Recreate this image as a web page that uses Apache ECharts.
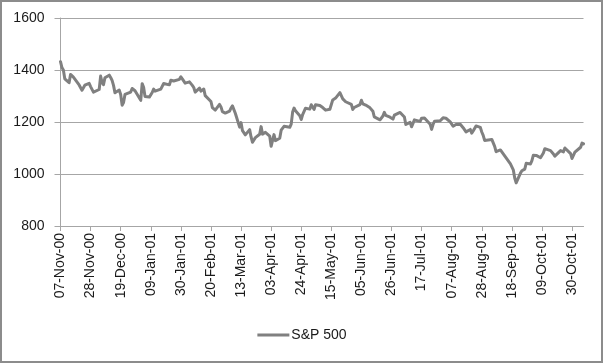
<!DOCTYPE html>
<html>
<head>
<meta charset="utf-8">
<script src="https://cdn.jsdelivr.net/npm/echarts@6/dist/echarts.min.js"></script>
<style>
html,body{margin:0;padding:0;background:#fff;}
#chart{width:604px;height:364px;}
</style>
</head>
<body>
<div id="chart"></div>
<script>
// Trading dates and S&P 500 closes
var tradingDates = [
"2000-11-07","2000-11-08","2000-11-09","2000-11-10","2000-11-13","2000-11-14","2000-11-15","2000-11-16","2000-11-17",
"2000-11-20","2000-11-21","2000-11-22","2000-11-24","2000-11-27","2000-11-28","2000-11-29","2000-11-30","2000-12-01",
"2000-12-04","2000-12-05","2000-12-06","2000-12-07","2000-12-08","2000-12-11","2000-12-12","2000-12-13","2000-12-14","2000-12-15",
"2000-12-18","2000-12-19","2000-12-20","2000-12-21","2000-12-22","2000-12-26","2000-12-27","2000-12-28","2000-12-29",
"2001-01-02","2001-01-03","2001-01-04","2001-01-05","2001-01-08","2001-01-09","2001-01-10","2001-01-11","2001-01-12",
"2001-01-16","2001-01-17","2001-01-18","2001-01-19","2001-01-22","2001-01-23","2001-01-24","2001-01-25","2001-01-26",
"2001-01-29","2001-01-30","2001-01-31","2001-02-01","2001-02-02","2001-02-05","2001-02-06","2001-02-07","2001-02-08","2001-02-09",
"2001-02-12","2001-02-13","2001-02-14","2001-02-15","2001-02-16","2001-02-20","2001-02-21","2001-02-22","2001-02-23",
"2001-02-26","2001-02-27","2001-02-28","2001-03-01","2001-03-02","2001-03-05","2001-03-06","2001-03-07","2001-03-08","2001-03-09",
"2001-03-12","2001-03-13","2001-03-14","2001-03-15","2001-03-16","2001-03-19","2001-03-20","2001-03-21","2001-03-22","2001-03-23",
"2001-03-26","2001-03-27","2001-03-28","2001-03-29","2001-03-30","2001-04-02","2001-04-03","2001-04-04","2001-04-05","2001-04-06",
"2001-04-09","2001-04-10","2001-04-11","2001-04-12","2001-04-16","2001-04-17","2001-04-18","2001-04-19","2001-04-20",
"2001-04-23","2001-04-24","2001-04-25","2001-04-26","2001-04-27","2001-04-30","2001-05-01","2001-05-02","2001-05-03","2001-05-04",
"2001-05-07","2001-05-08","2001-05-09","2001-05-10","2001-05-11","2001-05-14","2001-05-15","2001-05-16","2001-05-17","2001-05-18",
"2001-05-21","2001-05-22","2001-05-23","2001-05-24","2001-05-25","2001-05-29","2001-05-30","2001-05-31","2001-06-01",
"2001-06-04","2001-06-05","2001-06-06","2001-06-07","2001-06-08","2001-06-11","2001-06-12","2001-06-13","2001-06-14","2001-06-15",
"2001-06-18","2001-06-19","2001-06-20","2001-06-21","2001-06-22","2001-06-25","2001-06-26","2001-06-27","2001-06-28","2001-06-29",
"2001-07-02","2001-07-03","2001-07-05","2001-07-06","2001-07-09","2001-07-10","2001-07-11","2001-07-12","2001-07-13",
"2001-07-16","2001-07-17","2001-07-18","2001-07-19","2001-07-20","2001-07-23","2001-07-24","2001-07-25","2001-07-26","2001-07-27",
"2001-07-30","2001-07-31","2001-08-01","2001-08-02","2001-08-03","2001-08-06","2001-08-07","2001-08-08","2001-08-09","2001-08-10",
"2001-08-13","2001-08-14","2001-08-15","2001-08-16","2001-08-17","2001-08-20","2001-08-21","2001-08-22","2001-08-23","2001-08-24",
"2001-08-27","2001-08-28","2001-08-29","2001-08-30","2001-08-31","2001-09-04","2001-09-05","2001-09-06","2001-09-07",
"2001-09-10","2001-09-17","2001-09-18","2001-09-19","2001-09-20","2001-09-21","2001-09-24","2001-09-25","2001-09-26","2001-09-27","2001-09-28",
"2001-10-01","2001-10-02","2001-10-03","2001-10-04","2001-10-05","2001-10-08","2001-10-09","2001-10-10","2001-10-11","2001-10-12",
"2001-10-15","2001-10-16","2001-10-17","2001-10-18","2001-10-19","2001-10-22","2001-10-23","2001-10-24","2001-10-25","2001-10-26",
"2001-10-29","2001-10-30","2001-10-31","2001-11-01","2001-11-02","2001-11-05","2001-11-06","2001-11-07"
];
var sp500Close = [
1431.87,1409.28,1400.14,1365.98,1351.26,1382.95,1389.81,1372.32,1367.72,
1342.62,1347.35,1322.36,1341.77,1348.97,1336.09,1341.93,1314.95,1315.23,
1324.97,1376.54,1351.46,1343.55,1369.89,1380.20,1371.18,1359.99,1340.93,1312.15,
1322.74,1305.60,1264.74,1274.86,1305.95,1315.19,1328.92,1334.22,1320.28,
1283.27,1347.56,1333.34,1298.35,1295.86,1300.80,1313.27,1326.82,1318.55,
1326.65,1329.47,1347.97,1342.54,1342.90,1360.40,1364.30,1357.51,1354.95,
1364.17,1373.73,1366.01,1373.47,1349.47,1354.31,1352.26,1340.89,1332.53,1314.76,
1330.31,1318.80,1315.92,1326.61,1301.53,1278.94,1255.27,1252.82,1245.86,
1267.65,1257.94,1239.94,1241.23,1234.18,1241.41,1253.80,1261.89,1264.74,1233.42,
1180.16,1197.66,1166.71,1173.56,1150.53,1170.81,1142.62,1122.14,1117.58,1139.83,
1152.69,1182.17,1153.29,1147.95,1160.33,1145.87,1106.46,1103.25,1151.44,1128.43,
1137.59,1168.38,1165.89,1183.50,1179.68,1191.81,1238.16,1253.69,1242.98,
1224.36,1209.47,1228.75,1234.52,1253.05,1249.46,1266.44,1267.43,1248.58,1266.61,
1263.51,1261.20,1255.54,1255.18,1245.67,1248.92,1249.44,1284.99,1288.49,1291.96,
1312.83,1309.38,1289.05,1293.17,1277.89,1267.93,1248.08,1255.82,1260.67,
1267.11,1283.57,1270.03,1276.96,1264.96,1254.39,1255.85,1241.60,1219.87,1214.36,
1208.43,1212.58,1223.14,1237.04,1225.35,1218.60,1216.76,1211.07,1226.20,1224.38,
1236.72,1234.45,1219.24,1190.59,1198.78,1181.52,1180.18,1208.14,1215.68,
1202.45,1214.44,1207.71,1215.02,1210.85,1191.03,1171.65,1190.49,1202.93,1205.82,
1204.52,1211.23,1215.93,1220.75,1214.35,1200.48,1204.40,1183.53,1183.43,1190.16,
1191.29,1186.73,1178.02,1181.66,1161.97,1171.41,1157.26,1165.31,1162.09,1184.93,
1179.21,1161.51,1148.56,1129.03,1133.58,1132.94,1131.74,1106.40,1085.78,
1092.54,1038.77,1032.74,1016.10,984.54,965.80,1003.45,1012.27,1007.04,1018.61,1040.94,
1038.55,1051.33,1072.28,1069.63,1071.38,1062.44,1056.75,1080.99,1097.43,1091.65,
1089.98,1097.54,1077.09,1068.61,1073.48,1089.90,1084.78,1085.20,1100.09,1104.61,
1078.30,1059.79,1059.78,1084.10,1087.20,1102.84,1118.86,1115.80
];
var tickLabels = ["07-Nov-00","28-Nov-00","19-Dec-00","09-Jan-01","30-Jan-01","20-Feb-01","13-Mar-01","03-Apr-01","24-Apr-01",
"15-May-01","05-Jun-01","26-Jun-01","17-Jul-01","07-Aug-01","28-Aug-01","18-Sep-01","09-Oct-01","30-Oct-01"];
var seriesName = "S&P 500";
var axisStart = "2000-11-07", axisEnd = "2001-11-07";
var yTicks = [800, 1000, 1200, 1400, 1600];

var MON = ["Jan","Feb","Mar","Apr","May","Jun","Jul","Aug","Sep","Oct","Nov","Dec"];
function fmt(d){
  var dd = ("0"+d.getUTCDate()).slice(-2);
  var yy = ("0"+(d.getUTCFullYear()%100)).slice(-2);
  return dd+"-"+MON[d.getUTCMonth()]+"-"+yy;
}
// build calendar-day category axis (Excel date axis)
var cats = [], iso = [];
var d = new Date(axisStart+"T00:00:00Z"), end = new Date(axisEnd+"T00:00:00Z");
while (d <= end) { cats.push(fmt(d)); iso.push(d.toISOString().slice(0,10)); d = new Date(d.getTime()+86400000); }
var lookup = {};
tradingDates.forEach(function(t,i){ lookup[t] = sp500Close[i]; });
var values = iso.map(function(t){ return lookup.hasOwnProperty(t) ? lookup[t] : null; });
var tickSet = {};
tickLabels.forEach(function(t){ tickSet[t] = true; });
function showTick(idx, val){ return !!tickSet[val]; }

var chart = echarts.init(document.getElementById('chart'), null, {renderer:'canvas'});
chart.setOption({
  animation: false,
  backgroundColor: '#ffffff',
  textStyle: { fontFamily: 'Liberation Sans, Arial, sans-serif' },
  grid: { left: 60.5, right: 20.5, top: 18, bottom: 138, containLabel: false },
  graphic: [{
    type: 'rect', shape: { x: 1, y: 1, width: 601, height: 361 },
    style: { fill: 'none', stroke: '#8c8c8c', lineWidth: 2 }, silent: true, z: 100
  }],
  xAxis: {
    type: 'category', data: cats, boundaryGap: false,
    axisLine: { lineStyle: { color: '#a6a6a6', width: 1 } },
    axisTick: { show: true, interval: showTick, length: 5, lineStyle: { color: '#a6a6a6' } },
    axisLabel: { interval: showTick, rotate: 90, margin: 7, color: '#1a1a1a', fontSize: 14 },
    splitLine: { show: false }
  },
  yAxis: {
    type: 'value', min: yTicks[0], max: yTicks[yTicks.length-1], interval: 200,
    axisLine: { show: true, lineStyle: { color: '#a6a6a6', width: 1 } },
    axisTick: { show: true, length: 6, lineStyle: { color: '#a6a6a6' } },
    axisLabel: { margin: 16, color: '#1a1a1a', fontSize: 14, formatter: function(v){ return String(v); } },
    splitLine: { show: true, lineStyle: { color: '#a6a6a6', width: 1 } }
  },
  legend: {
    bottom: 17, left: 'center',
    icon: 'rect', itemWidth: 32, itemHeight: 3, itemGap: 10,
    textStyle: { fontSize: 14, color: '#1a1a1a', padding: [0,0,0,-3] },
    data: [seriesName]
  },
  series: [{
    name: seriesName, type: 'line', data: values, connectNulls: true,
    showSymbol: false, symbol: 'none',
    lineStyle: { color: '#808080', width: 3, join: 'round', cap: 'round' },
    itemStyle: { color: '#808080' }
  }]
});
</script>
</body>
</html>
